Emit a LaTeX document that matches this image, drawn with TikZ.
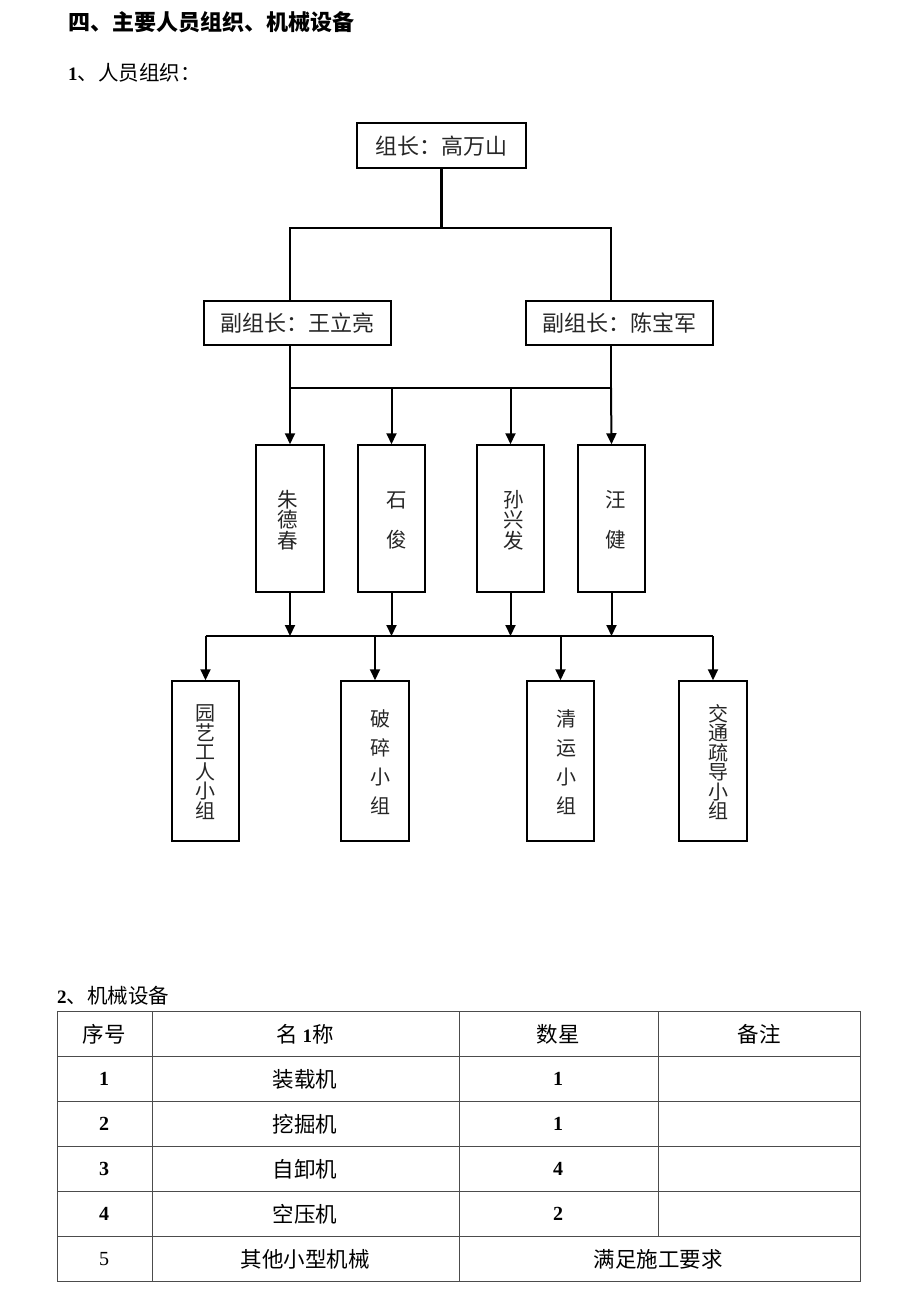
\documentclass[tikz,border=0pt]{standalone}
\usepackage{fontspec}
\setmainfont{Liberation Serif}
\newfontfamily\cjk{Noto Sans CJK SC}
\usetikzlibrary{arrows.meta}
\begin{document}
\begin{tikzpicture}[x=1pt,y=-1pt,
  box/.style={draw, line width=1.5pt, inner sep=0pt},
  conn/.style={line width=2pt},
  arr/.style={conn, -{Triangle[length=11pt,width=10pt]}},
  txt/.style={inner sep=0pt, text=black!85, font=\cjk\fontsize{22}{24}\selectfont},
  vtxt/.style={inner sep=0pt, text=black!85, align=center},
  grid/.style={line width=0.9pt, draw=black!70},
  cell/.style={inner sep=0pt, font=\cjk\fontsize{21.5}{23}\selectfont},
  num/.style={inner sep=0pt, font=\bfseries\fontsize{20}{22}\selectfont}
]
\useasboundingbox[fill=white] (0,0) rectangle (920,1301);

% headings
\node[anchor=west, inner sep=0pt, font=\cjk\bfseries\fontsize{22}{24}\selectfont] (h1) at (68,22) {四、主要人员组织、机械设备};
\node[anchor=west, inner sep=0pt] (h2) at (68,73) {{\bfseries\fontsize{19}{20}\selectfont 1}{\cjk\fontsize{20.5}{22}\selectfont 、人员组织：}};

% top level
\node[box, minimum width=169pt, minimum height=45pt] (top) at (441.5,145.5) {};
\node[txt] (ttop) at (441.5,146) {组长：高万山};
\node[box, minimum width=187pt, minimum height=44pt] (v1) at (297.5,323) {};
\node[txt] (tv1) at (297.5,323) {副组长：王立亮};
\node[box, minimum width=187pt, minimum height=44pt] (v2) at (619.5,323) {};
\node[txt] (tv2) at (619.5,323) {副组长：陈宝军};

% name boxes
\node[box, minimum width=68pt, minimum height=147pt] (n1) at (290,518.5) {};
\node[box, minimum width=67pt, minimum height=147pt] (n2) at (391.5,518.5) {};
\node[box, minimum width=67pt, minimum height=147pt] (n3) at (510.5,518.5) {};
\node[box, minimum width=67pt, minimum height=147pt] (n4) at (611.5,518.5) {};
\node[vtxt, font=\cjk\fontsize{20.5}{20.5}\selectfont] (tn1) at (288,520) {朱\\德\\春};
\node[vtxt, font=\cjk\fontsize{20.5}{40}\selectfont] (tn2) at (397,520) {石\\俊};
\node[vtxt, font=\cjk\fontsize{20.5}{20.5}\selectfont] (tn3) at (514,520) {孙\\兴\\发};
\node[vtxt, font=\cjk\fontsize{20.5}{40}\selectfont] (tn4) at (616,520) {汪\\健};

% group boxes
\node[box, minimum width=67pt, minimum height=160pt] (g1) at (205.5,761) {};
\node[box, minimum width=68pt, minimum height=160pt] (g2) at (375,761) {};
\node[box, minimum width=67pt, minimum height=160pt] (g3) at (560.5,761) {};
\node[box, minimum width=68pt, minimum height=160pt] (g4) at (713,761) {};
\node[vtxt, font=\cjk\fontsize{20}{19.5}\selectfont] (tg1) at (205,762) {园\\艺\\工\\人\\小\\组};
\node[vtxt, font=\cjk\fontsize{20}{29}\selectfont] (tg2) at (380,762) {破\\碎\\小\\组};
\node[vtxt, font=\cjk\fontsize{20}{29}\selectfont] (tg3) at (566,762) {清\\运\\小\\组};
\node[vtxt, font=\cjk\fontsize{20}{19.5}\selectfont] (tg4) at (718,762) {交\\通\\疏\\导\\小\\组};

% connectors level 1
\coordinate (j1) at (441.5,228);
\draw[line width=2.6pt] (top.south) -- (j1);
\draw[conn] ([xshift=-7.5pt]v1.north) |- (j1) -| ([xshift=-8.5pt]v2.north);

% connectors level 2
\coordinate (b1) at (290,388);
\coordinate (b2) at (611,388);
\draw[conn] ([xshift=-7.5pt]v1.south) -- (b1) -- (b2) -- ([xshift=-8.5pt]v2.south);
\draw[arr] (b1) -- (n1.north);
\draw[arr] (n2.north |- b1) -- (n2.north);
\draw[arr] (n3.north |- b1) -- (n3.north);
\draw[arr] (b2) -- (n4.north);

% connectors level 3
\coordinate (c1) at (205.5,636);
\coordinate (c2) at (713,636);
\draw[conn] (c1) -- (c2);
\draw[arr] (n1.south) -- (n1.south |- c1);
\draw[arr] (n2.south) -- (n2.south |- c1);
\draw[arr] (n3.south) -- (n3.south |- c1);
\draw[arr] (n4.south) -- (n4.south |- c1);
\draw[arr] (c1) -- (g1.north);
\draw[arr] (g2.north |- c1) -- (g2.north);
\draw[arr] (g3.north |- c1) -- (g3.north);
\draw[arr] (c2) -- (g4.north);

% table
\node[anchor=west, inner sep=0pt] (h3) at (57,996) {{\bfseries\fontsize{19}{20}\selectfont 2}{\cjk\fontsize{20.5}{22}\selectfont 、机械设备}};
\draw[grid] (57,1011) rectangle (860,1281);
\foreach \yy in {1056,1101,1146,1191,1236} \draw[grid] (57,\yy) -- (860,\yy);
\draw[grid] (152,1011) -- (152,1281);
\draw[grid] (459,1011) -- (459,1281);
\draw[grid] (658,1011) -- (658,1236);

\node[cell] (r0a) at (104,1034) {序号};
\node[cell] (r0b) at (305,1034) {名\ {\bfseries\rmfamily\fontsize{19}{20}\selectfont 1}称};
\node[cell] (r0c) at (558,1034) {数星};
\node[cell] (r0d) at (759,1034) {备注};

\node[num] (r1a) at (104,1079) {1};
\node[cell] (r1b) at (305,1079) {装载机};
\node[num] (r1c) at (558,1079) {1};

\node[num] (r2a) at (104,1124) {2};
\node[cell] (r2b) at (305,1124) {挖掘机};
\node[num] (r2c) at (558,1124) {1};

\node[num] (r3a) at (104,1169) {3};
\node[cell] (r3b) at (305,1169) {自卸机};
\node[num] (r3c) at (558,1169) {4};

\node[num] (r4a) at (104,1214) {4};
\node[cell] (r4b) at (305,1214) {空压机};
\node[num] (r4c) at (558,1214) {2};

\node[inner sep=0pt, font=\fontsize{20}{22}\selectfont] (r5a) at (104,1259) {5};
\node[cell] (r5b) at (305,1259) {其他小型机械};
\node[cell] (r5c) at (658,1259) {满足施工要求};
\end{tikzpicture}
\end{document}
